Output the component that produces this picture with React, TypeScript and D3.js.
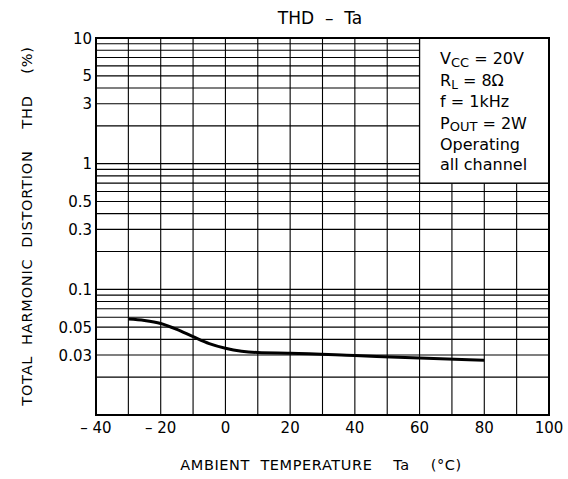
import React from "react";
import * as d3 from "d3";

const tempC = [-30, -25, -20, -15, -10, -5, 0, 5, 10, 20, 40, 60, 80];
const thdPct = [0.058, 0.0565, 0.0535, 0.048, 0.042, 0.037, 0.034, 0.0322, 0.0314, 0.031, 0.0297, 0.0284, 0.0273];
const xTicks = [-40, -20, 0, 20, 40, 60, 80, 100];
const xGrid = [-30, -20, -10, 0, 10, 20, 30, 40, 50, 60, 70, 80, 90];
const yTicks = [10, 5, 3, 1, 0.5, 0.3, 0.1, 0.05, 0.03];
const yGrid = [0.02, 0.03, 0.04, 0.05, 0.06, 0.07, 0.08, 0.09, 0.1, 0.2, 0.3, 0.4, 0.5, 0.6, 0.7, 0.8, 0.9, 1, 2, 3, 4, 5, 6, 7, 8, 9];

const W = 568, H = 479;
const L = 96, R = 549, T = 38, B = 415;
const FONT = "'DejaVu Sans', sans-serif";

function fmtX(v: number) {
  return v < 0 ? "\u2013 " + Math.abs(v) : String(v);
}

export default function App() {
  const x = d3.scaleLinear().domain([-40, 100]).range([L, R]);
  const y = d3.scaleLog().domain([0.01, 10]).range([B, T]);
  const line = d3
    .line<number>()
    .x((_, i) => x(tempC[i]))
    .y((d) => y(d))
    .curve(d3.curveMonotoneX);

  const boxX0 = x(60), boxX1 = x(100), boxY0 = y(10), boxY1 = y(0.7);
  const tx = 440;
  const pre = { whiteSpace: "pre" as const };

  return (
    <svg width={W} height={H} style={{ position: "absolute", left: 0, top: 0, background: "#fff" }} fontFamily={FONT}>
      <rect x={0} y={0} width={W} height={H} fill="#fff" />
      <text x={320} y={24} textAnchor="middle" fontSize={17} style={pre}>{"THD  \u2013  Ta"}</text>
      {yGrid.map((v) => (
        <line key={"h" + v} x1={L} x2={R} y1={y(v)} y2={y(v)} stroke="#000" strokeWidth={1.1} />
      ))}
      {xGrid.map((v) => (
        <line key={"v" + v} x1={x(v)} x2={x(v)} y1={T} y2={B} stroke="#000" strokeWidth={1.1} />
      ))}
      <rect x={boxX0} y={boxY0} width={boxX1 - boxX0} height={boxY1 - boxY0} fill="#fff" stroke="#000" strokeWidth={1.3} />
      <rect x={L} y={T} width={R - L} height={B - T} fill="none" stroke="#000" strokeWidth={2} />
      <path d={line(thdPct) || ""} fill="none" stroke="#000" strokeWidth={3} />
      {yTicks.map((v) => (
        <text key={"yt" + v} x={92} y={y(v) + 5.5} textAnchor="end" fontSize={15}>{String(v)}</text>
      ))}
      {xTicks.map((v) => (
        <text key={"xt" + v} x={x(v)} y={433} textAnchor="middle" fontSize={15}>{fmtX(v)}</text>
      ))}
      <text x={321} y={470} textAnchor="middle" fontSize={14.5} letterSpacing={0.6} style={pre}>
        AMBIENT  TEMPERATURE    Ta    (°C)
      </text>
      <text transform="translate(32,226) rotate(-90)" textAnchor="middle" fontSize={14.5} letterSpacing={0.8} style={pre}>
        TOTAL  HARMONIC  DISTORTION    THD    (%)
      </text>
      <g fontSize={16}>
        <text x={tx} y={64}>V<tspan fontSize={13} dy={3}>CC</tspan><tspan dy={-3}> = 20V</tspan></text>
        <text x={tx} y={86}>R<tspan fontSize={12} dy={3}>L</tspan><tspan dy={-3}> = 8Ω</tspan></text>
        <text x={tx} y={107}>f = 1kHz</text>
        <text x={tx} y={129}>P<tspan fontSize={13} dy={2}>OUT</tspan><tspan dy={-2}> = 2W</tspan></text>
        <text x={tx} y={150}>Operating</text>
        <text x={tx} y={170}>all channel</text>
      </g>
    </svg>
  );
}
